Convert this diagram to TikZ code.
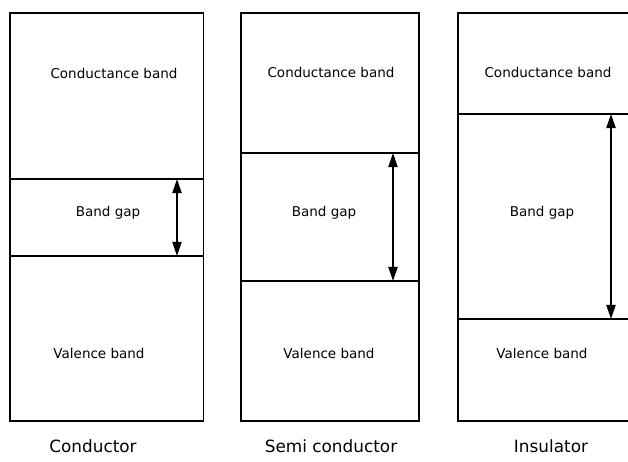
\documentclass[tikz,border=0pt]{standalone}
\usepackage{fontspec}
\setmainfont{DejaVu Sans}
\usetikzlibrary{arrows.meta}

\tikzset{
  bandtext/.style={font=\fontsize{9.6}{11}\selectfont},
  kindtext/.style={font=\fontsize{12}{14}\selectfont},
  gaparrow/.style={line width=1.3pt,{Triangle[length=10pt,width=6.5pt]}-{Triangle[length=10pt,width=6.5pt]}}
}

\begin{document}
\begin{tikzpicture}[line width=0.9pt]
  \useasboundingbox (0,0) rectangle (15.7,11.55);
  % conductor
  \draw (0.25,1.025) rectangle (5.08,11.225);
  \draw (0.25,7.075)--(5.08,7.075) (0.25,5.15)--(5.08,5.15);
  \coordinate (cond-up) at (4.425,7.075);
  \coordinate (cond-lo) at (4.425,5.15);
  \draw[gaparrow] (cond-up)--(cond-lo);
  \node[bandtext] (cond-cb) at (2.85,9.725) {Conductance band};
  \node[bandtext] (cond-gap) at (2.7,6.225) {Band gap};
  \node[bandtext] (cond-vb) at (2.475,2.725) {Valence band};
  \node[kindtext] (cond) at (2.325,0.4) {Conductor};
  % semi conductor
  \draw (6.025,1.025) rectangle (10.475,11.225);
  \draw (6.025,7.725)--(10.475,7.725) (6.025,4.525)--(10.475,4.525);
  \coordinate (semi-up) at (9.825,7.725);
  \coordinate (semi-lo) at (9.825,4.525);
  \draw[gaparrow] (semi-up)--(semi-lo);
  \node[bandtext] (semi-cb) at (8.275,9.75) {Conductance band};
  \node[bandtext] (semi-gap) at (8.1,6.225) {Band gap};
  \node[bandtext] (semi-vb) at (8.225,2.725) {Valence band};
  \node[kindtext] (semi) at (8.275,0.4) {Semi conductor};
  % insulator, runs off the right edge
  \draw (15.7,11.225)--(11.45,11.225)--(11.45,1.025)--(15.7,1.025);
  \draw (11.45,8.7)--(15.7,8.7) (11.45,3.575)--(15.7,3.575);
  \coordinate (ins-up) at (15.275,8.7);
  \coordinate (ins-lo) at (15.275,3.575);
  \draw[gaparrow] (ins-up)--(ins-lo);
  \node[bandtext] (ins-cb) at (13.7,9.75) {Conductance band};
  \node[bandtext] (ins-gap) at (13.55,6.225) {Band gap};
  \node[bandtext] (ins-vb) at (13.55,2.725) {Valence band};
  \node[kindtext] (ins) at (13.775,0.4) {Insulator};
\end{tikzpicture}
\end{document}
